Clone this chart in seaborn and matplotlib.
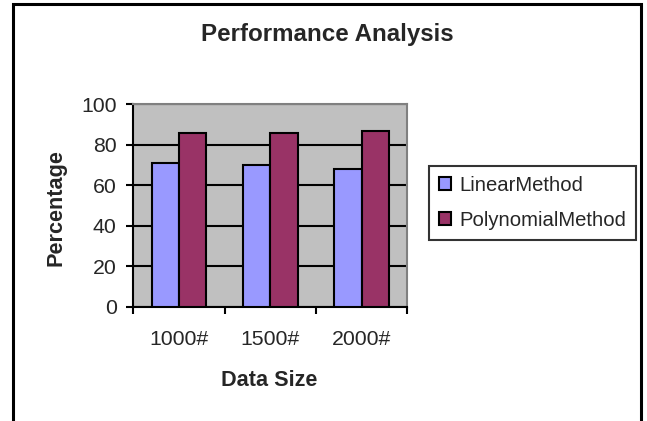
import matplotlib
matplotlib.use("Agg")
import matplotlib.pyplot as plt
import seaborn as sns
import pandas as pd
from matplotlib.patches import Rectangle
from matplotlib.ticker import FixedLocator

categories = ["1000#", "1500#", "2000#"]
linear_method = [71, 70, 68]
polynomial_method = [86, 86, 87]
series_names = ["LinearMethod", "PolynomialMethod"]
colors = ["#9999FF", "#993366"]

sns.set_style("white")
plt.rcParams["font.family"] = ["Liberation Sans", "DejaVu Sans"]

df = pd.DataFrame({
    "Data Size": categories * 2,
    "Percentage": linear_method + polynomial_method,
    "Method": [series_names[0]] * 3 + [series_names[1]] * 3,
})

W, H = 647, 421
fig = plt.figure(figsize=(W / 100, H / 100), dpi=100)
fig.patch.set_facecolor("white")

ax = fig.add_axes([133.3 / W, 1 - 306.7 / H, (407.3 - 133.3) / W, (306.7 - 104.3) / H])
ax.set_facecolor("#C0C0C0")

sns.barplot(data=df, x="Data Size", y="Percentage", hue="Method",
            palette=colors, edgecolor="black", linewidth=1.5,
            width=0.6, saturation=1, ax=ax, zorder=3)

ax.set_ylim(0, 100)
ax.set_xlim(-0.5, 2.5)
ax.set_yticks([0, 20, 40, 60, 80, 100])
ax.yaxis.grid(True, color="black", linewidth=1.5, zorder=1)
ax.set_axisbelow(True)
ax.set_xlabel("")
ax.set_ylabel("")

for s in ["left", "bottom"]:
    ax.spines[s].set_color("black")
    ax.spines[s].set_linewidth(1.5)
for s in ["top", "right"]:
    ax.spines[s].set_color("#808080")
    ax.spines[s].set_linewidth(1.5)

tick_fs = 15.3
ax.tick_params(axis="y", direction="out", length=5, width=1.5, color="black",
               labelsize=tick_fs, pad=7, left=True)
ax.tick_params(axis="x", which="major", length=0, labelsize=tick_fs, pad=16.5)
ax.xaxis.set_minor_locator(FixedLocator([-0.5, 0.5, 1.5, 2.5]))
ax.tick_params(axis="x", which="minor", direction="out", length=5, width=1.5,
               color="black", bottom=True)

handles, labels = ax.get_legend_handles_labels()
if ax.get_legend() is not None:
    ax.get_legend().remove()
leg = fig.legend(handles, labels, loc="upper left",
                 bbox_to_anchor=(428.7 / W, 1 - 165.7 / H),
                 bbox_transform=fig.transFigure, borderaxespad=0,
                 frameon=True, fancybox=False, shadow=False,
                 fontsize=14.6, handlelength=0.6, handleheight=0.6,
                 handletextpad=0.4, labelspacing=0.8, borderpad=0.5)
leg.get_frame().set_edgecolor("black")
leg.get_frame().set_linewidth(1.5)

fig.text(327 / W, 1 - 35 / H, "Performance Analysis", ha="center", va="center",
         fontsize=17.4, fontweight="bold")
fig.text(56 / W, 1 - 208 / H, "Percentage", ha="center", va="center",
         rotation=90, fontsize=15.6, fontweight="bold")
fig.text(269 / W, 1 - 380 / H, "Data Size", ha="center", va="center",
         fontsize=15.6, fontweight="bold")

fig.patches.append(Rectangle((13 / W, -0.05), (641 - 13) / W, 1.05 - 4 / H,
                             transform=fig.transFigure, fill=False,
                             edgecolor="black", linewidth=2.2))

fig.savefig("out.png", dpi=100)
